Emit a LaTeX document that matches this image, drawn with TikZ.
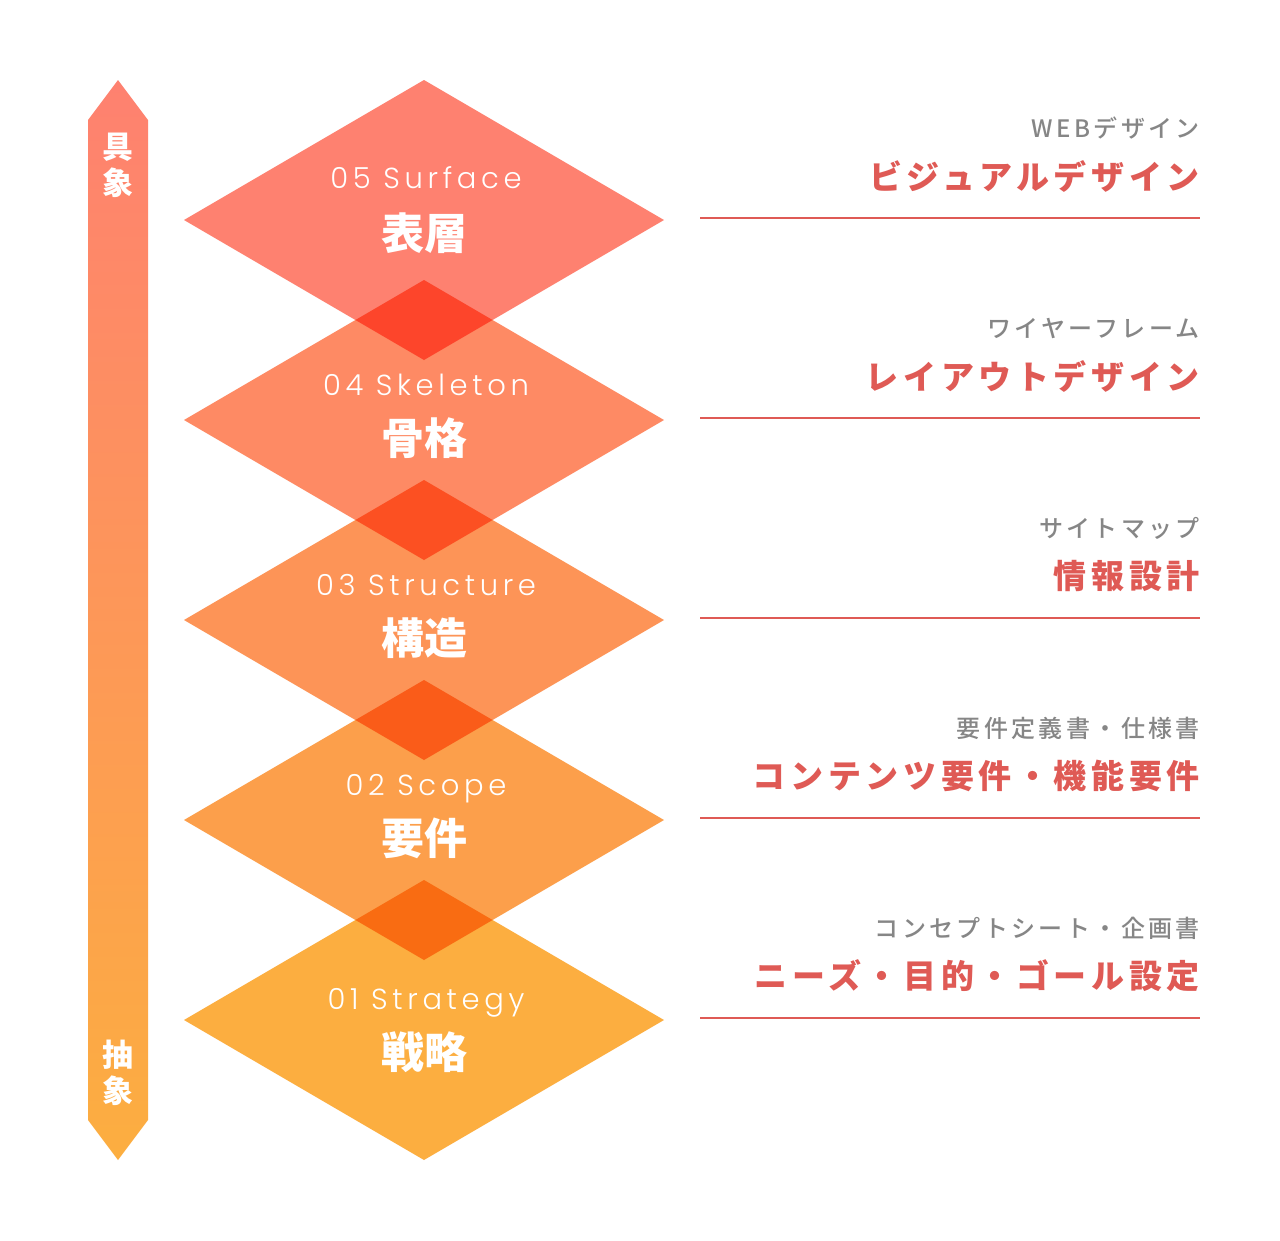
\documentclass[tikz,border=0pt]{standalone}
\usepackage{fontspec}
\usetikzlibrary{positioning}
\newfontfamily\jpfont{Noto Sans CJK JP}
\newfontfamily\jpwide{Noto Sans CJK JP}[LetterSpace=14]
\newfontfamily\jpsub{Noto Sans CJK JP Medium}[LetterSpace=14]
\newfontfamily\enfont{Poppins Light}[LetterSpace=16]

\definecolor{surf}{HTML}{FE8170}
\definecolor{skel}{HTML}{FE8A64}
\definecolor{stru}{HTML}{FD9457}
\definecolor{scop}{HTML}{FC9F4B}
\definecolor{stra}{HTML}{FCAE40}
\definecolor{accent}{HTML}{DF5A55}
\definecolor{notegray}{HTML}{868686}

\tikzset{
  plane/.style={blend mode=multiply},
  layername/.style={font=\enfont\fontsize{29}{29}\selectfont, text=white, anchor=base, inner sep=0pt},
  layerjp/.style={font=\jpfont\bfseries\fontsize{43}{43}\selectfont, text=white, inner sep=0pt},
  axislabel/.style={font=\jpfont\bfseries\fontsize{31}{36}\selectfont, text=white, align=center, inner sep=0pt},
  subnote/.style={font=\jpsub\fontsize{24}{24}\selectfont, text=notegray, anchor=east, inner sep=0pt},
  deliver/.style={font=\jpwide\bfseries\fontsize{33}{33}\selectfont, text=accent, anchor=east, inner sep=0pt},
  rule/.style={draw=accent, line width=2pt},
}

\begin{document}
\begin{tikzpicture}[x=1pt,y=-1pt]
\useasboundingbox (0,0) rectangle (1280,1240);
\fill[white] (0,0) rectangle (1280,1240);
% axis arrow
\shade[top color=surf, bottom color=stra] (118,80) -- (148,120) -- (148,1120) -- (118,1160) -- (88,1120) -- (88,120) -- cycle;
\node[axislabel] (concrete) at (118,165) {具\\象};
\node[axislabel] (abstract) at (118,1073) {抽\\象};
% the five planes
\foreach \yc/\col in {220/surf,420/skel,620/stru,820/scop,1020/stra}
  \fill[\col, plane] (424,{\yc-140}) -- (664,\yc) -- (424,{\yc+140}) -- (184,\yc) -- cycle;
\node[layername] (surfEn) at (426,188) {05 Surface};
\node[layerjp] (surfJp) at (424,233) {表層};
\node[layername] (skelEn) at (426,395) {04 Skeleton};
\node[layerjp] (skelJp) at (424,438) {骨格};
\node[layername] (struEn) at (426,595) {03 Structure};
\node[layerjp] (struJp) at (424,638) {構造};
\node[layername] (scopEn) at (426,795) {02 Scope};
\node[layerjp] (scopJp) at (424,838) {要件};
\node[layername] (straEn) at (426,1009) {01 Strategy};
\node[layerjp] (straJp) at (424,1052) {戦略};
% deliverables
\foreach \yl in {218,418,618,818,1018}
  \draw[rule] (700,\yl) -- (1200,\yl);
\node[subnote] (surfNote) at (1200,128) {WEBデザイン};
\node[deliver] (surfOut) at (1200,176) {ビジュアルデザイン};
\node[subnote] (skelNote) at (1200,328) {ワイヤーフレーム};
\node[deliver] (skelOut) at (1200,376) {レイアウトデザイン};
\node[subnote] (struNote) at (1200,528) {サイトマップ};
\node[deliver] (struOut) at (1200,576) {情報設計};
\node[subnote] (scopNote) at (1200,728) {要件定義書・仕様書};
\node[deliver] (scopOut) at (1200,776) {コンテンツ要件・機能要件};
\node[subnote] (straNote) at (1200,928) {コンセプトシート・企画書};
\node[deliver] (straOut) at (1200,976) {ニーズ・目的・ゴール設定};
\end{tikzpicture}
\end{document}
